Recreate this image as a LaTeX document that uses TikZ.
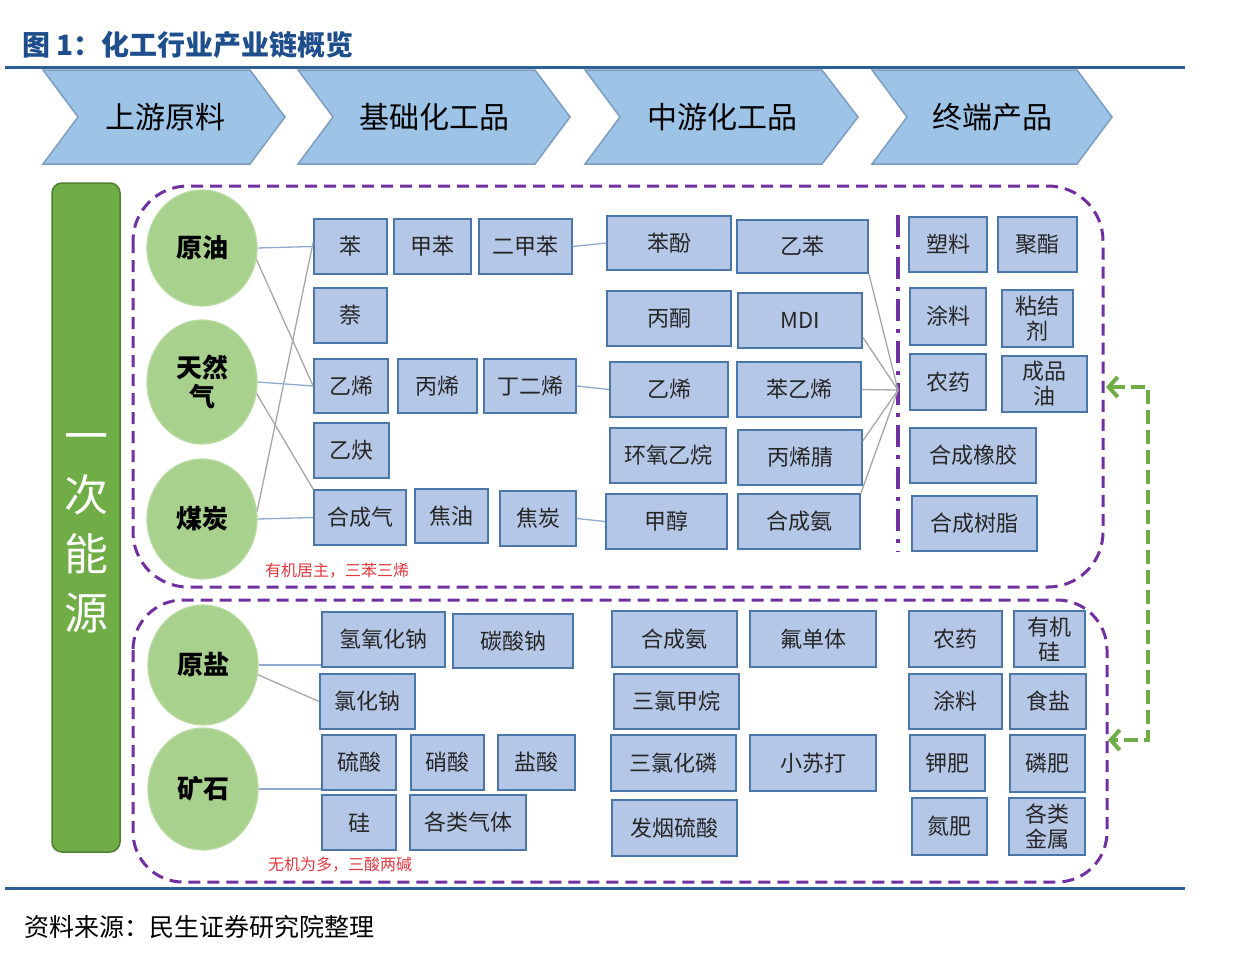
\documentclass[tikz,border=0pt]{standalone}
\usepackage{fontspec}
\setmainfont{Noto Sans CJK SC}
\usetikzlibrary{arrows.meta,shapes.geometric}
\definecolor{titleblue}{HTML}{1F4E8C}
\definecolor{rule}{HTML}{2E5F94}
\definecolor{chevfill}{HTML}{9DC3E6}
\definecolor{chevdraw}{HTML}{7E9CC0}
\definecolor{boxfill}{HTML}{B4C7E7}
\definecolor{boxdraw}{HTML}{4A76A8}
\definecolor{ellfill}{HTML}{A9D18E}
\definecolor{ellline}{HTML}{B9DAA2}
\definecolor{barfill}{HTML}{70AD47}
\definecolor{bardraw}{HTML}{507E32}
\definecolor{purp}{HTML}{7030A0}
\definecolor{grn}{HTML}{70AD47}
\definecolor{lnblue}{HTML}{8FAAD0}
\definecolor{lngray}{HTML}{A6A6A6}
\definecolor{redtxt}{HTML}{E0383E}
\newcommand\bnode[6]{\node[bx,minimum width={#4-#2},minimum height={#5-#3}] (#1) at ({(#2+#4)/2},{(#3+#5)/2}) {#6};}
\tikzset{
  chev/.style={fill=chevfill,draw=chevdraw,line width=1.5pt,line join=miter},
  chevtxt/.style={font=\fontsize{30}{34}\selectfont,text=black},
  bx/.style={rectangle,fill=boxfill,draw=boxdraw,line width=1.8pt,inner sep=0pt,align=center,
     font=\fontsize{22}{25}\selectfont,text=black!85},
  ell/.style={ellipse,fill=ellfill,draw=ellline,line width=1.2pt,inner sep=0pt,align=center,
     font=\bfseries\fontsize{26}{29}\selectfont,text=black},
  hl/.style={draw=lnblue,line width=1.3pt},
  dl/.style={draw=lngray,line width=1.3pt},
  region/.style={draw=purp,line width=3pt,dash pattern=on 12pt off 7pt},
  redlabel/.style={font=\fontsize{16}{18}\selectfont,text=redtxt,anchor=west,inner sep=0pt}
}
\begin{document}
\begin{tikzpicture}[x=1pt,y=-1pt]
\useasboundingbox (0,0) rectangle (1238,964);
% title and rules
\node[anchor=west,inner sep=0pt,text=titleblue,font=\bfseries\fontsize{28}{30}\selectfont] (title) at (22,45) {图 1：化工行业产业链概览};
\draw[rule,line width=3pt] (5,67) -- (1185,67);
\draw[rule,line width=3pt] (5,888) -- (1185,888);
\node[anchor=west,inner sep=0pt,font=\fontsize{25}{27}\selectfont] (source) at (24,927) {资料来源：民生证券研究院整理};
% chevrons
\draw[chev] (43,70) -- (250,70) -- (285,117) -- (250,164) -- (43,164) -- (78,117) -- cycle;
\draw[chev] (298,70) -- (535,70) -- (570,117) -- (535,164) -- (298,164) -- (333,117) -- cycle;
\draw[chev] (585,70) -- (822,70) -- (858,117) -- (822,164) -- (585,164) -- (620,117) -- cycle;
\draw[chev] (872,70) -- (1077,70) -- (1112,117) -- (1077,164) -- (872,164) -- (907,117) -- cycle;
\node[chevtxt] (c1) at (165,117) {上游原料};
\node[chevtxt] (c2) at (434,117) {基础化工品};
\node[chevtxt] (c3) at (722,117) {中游化工品};
\node[chevtxt] (c4) at (992,117) {终端产品};
% green bar
\draw[fill=barfill,draw=bardraw,line width=1.5pt,rounded corners=10pt] (52,183) rectangle (120,852);
\node[text=white,align=center,font=\fontsize{44}{59}\selectfont] (energy) at (86,533) {一\\次\\能\\源};
% regions
\draw[region,rounded corners=55pt] (133,186) rectangle (1103,587);
\draw[region,rounded corners=50pt] (133,600) rectangle (1107,882);
\draw[draw=purp,line width=4pt,dash pattern=on 22pt off 8pt on 4pt off 8pt] (898,215) -- (898,552);
\node[redlabel] (lab1) at (265,571) {有机居主，三苯三烯};
\node[redlabel] (lab2) at (268,865) {无机为多，三酸两碱};
% sources
\node[ell,minimum width=110,minimum height=116] (yy) at (202,248) {原油};
\node[ell,minimum width=110,minimum height=124] (trq) at (202,382) {天然\\气};
\node[ell,minimum width=110,minimum height=120] (mt) at (202,519) {煤炭};
\node[ell,minimum width=110,minimum height=120] (yyan) at (203,665) {原盐};
\node[ell,minimum width=110,minimum height=122] (ks) at (203,789) {矿石};
% basic chemicals (upper)
\bnode{ben}{314}{219}{387}{274}{苯}
\bnode{jb}{394}{219}{471}{274}{甲苯}
\bnode{ejb}{479}{219}{572}{274}{二甲苯}
\bnode{nai}{314}{288}{387}{343}{萘}
\bnode{yx}{314}{359}{388}{413}{乙烯}
\bnode{bx1}{398}{359}{477}{413}{丙烯}
\bnode{dex}{484}{359}{576}{413}{丁二烯}
\bnode{yq}{314}{423}{389}{478}{乙炔}
\bnode{hcq}{314}{490}{406}{545}{合成气}
\bnode{jy}{415}{489}{488}{543}{焦油}
\bnode{jt}{500}{491}{576}{546}{焦炭}
% middle chemicals (upper)
\bnode{bf}{607}{216}{731}{270}{苯酚}
\bnode{yb}{737}{220}{868}{273}{乙苯}
\bnode{bt}{607}{291}{731}{346}{丙酮}
\bnode{mdi}{738}{293}{862}{348}{MDI}
\bnode{yx2}{610}{362}{728}{417}{乙烯}
\bnode{byx}{737}{362}{861}{417}{苯乙烯}
\bnode{hyyw}{610}{428}{726}{483}{环氧乙烷}
\bnode{bxj}{738}{430}{862}{485}{丙烯腈}
\bnode{jc}{606}{494}{727}{549}{甲醇}
\bnode{hca}{738}{494}{860}{549}{合成氨}
% end products (upper)
\bnode{sl}{909}{217}{987}{272}{塑料}
\bnode{jz}{998}{217}{1077}{272}{聚酯}
\bnode{tl}{910}{288}{986}{345}{涂料}
\bnode{njj}{1002}{290}{1073}{347}{粘结\\剂}
\bnode{ny}{910}{354}{986}{410}{农药}
\bnode{cpy}{1002}{356}{1087}{412}{成品\\油}
\bnode{hcxj}{910}{428}{1036}{483}{合成橡胶}
\bnode{hcsz}{912}{496}{1037}{551}{合成树脂}
% lower basic
\bnode{qyhn}{322}{612}{445}{667}{氢氧化钠}
\bnode{tsn}{453}{614}{573}{668}{碳酸钠}
\bnode{lhn}{320}{674}{415}{729}{氯化钠}
\bnode{ls}{322}{735}{396}{790}{硫酸}
\bnode{xs}{411}{735}{484}{790}{硝酸}
\bnode{ys}{498}{735}{575}{790}{盐酸}
\bnode{gui}{322}{795}{396}{850}{硅}
\bnode{glqt}{410}{795}{526}{850}{各类气体}
% lower middle
\bnode{hca2}{612}{611}{737}{667}{合成氨}
\bnode{fdt}{750}{611}{876}{667}{氟单体}
\bnode{slja}{614}{674}{739}{729}{三氯甲烷}
\bnode{slhl}{611}{735}{736}{791}{三氯化磷}
\bnode{xsd}{750}{735}{876}{791}{小苏打}
\bnode{fyls}{612}{800}{737}{856}{发烟硫酸}
% lower end
\bnode{ny2}{909}{611}{1002}{667}{农药}
\bnode{yjg}{1014}{611}{1085}{667}{有机\\硅}
\bnode{tl2}{909}{674}{1002}{729}{涂料}
\bnode{shy}{1010}{674}{1086}{729}{食盐}
\bnode{jf}{910}{735}{985}{791}{钾肥}
\bnode{lf}{1010}{735}{1085}{792}{磷肥}
\bnode{df}{912}{798}{987}{855}{氮肥}
\bnode{gljs}{1009}{798}{1085}{855}{各类\\金属}
% connectors upper
\draw[hl] (yy.east) -- (ben.west);
\draw[dl] (yy.-12) -- (yx.west);
\draw[hl] (trq.east) -- (yx.west);
\draw[dl] (trq.-12) -- (hcq.north west);
\draw[dl] (mt.8) -- ([yshift=4pt]ben.west);
\draw[hl] (mt.east) -- (hcq.west);
\draw[hl] (ejb.east) -- (bf.west);
\draw[hl] (dex.east) -- (yx2.west);
\draw[hl] (jt.east) -- (jc.west);
\coordinate (cv) at (898,390);
\draw[dl] (yb.south east) -- (cv);
\draw[dl] (mdi.-15) -- (cv);
\draw[dl] (byx.east) -- (cv);
\draw[dl] (bxj.15) -- (cv);
\draw[dl] (hca.north east) -- (cv);
% connectors lower
\draw[hl] (yyan.east) -- (qyhn.west |- yyan.east);
\draw[dl] (yyan.-10) -- (lhn.west);
\draw[hl] (ks.east) -- (ls.west |- ks.east);
% feedback arrow
\coordinate (fa) at (1148,387);
\coordinate (fb) at (1148,740);
\draw[draw=grn,line width=4pt,dash pattern=on 14pt off 6pt,
  {Straight Barb[length=9pt,width=20pt]}-{Straight Barb[length=9pt,width=20pt]}]
  (1106,387) -- (fa) -- (fb) -- (1108,740);
\end{tikzpicture}
\end{document}
